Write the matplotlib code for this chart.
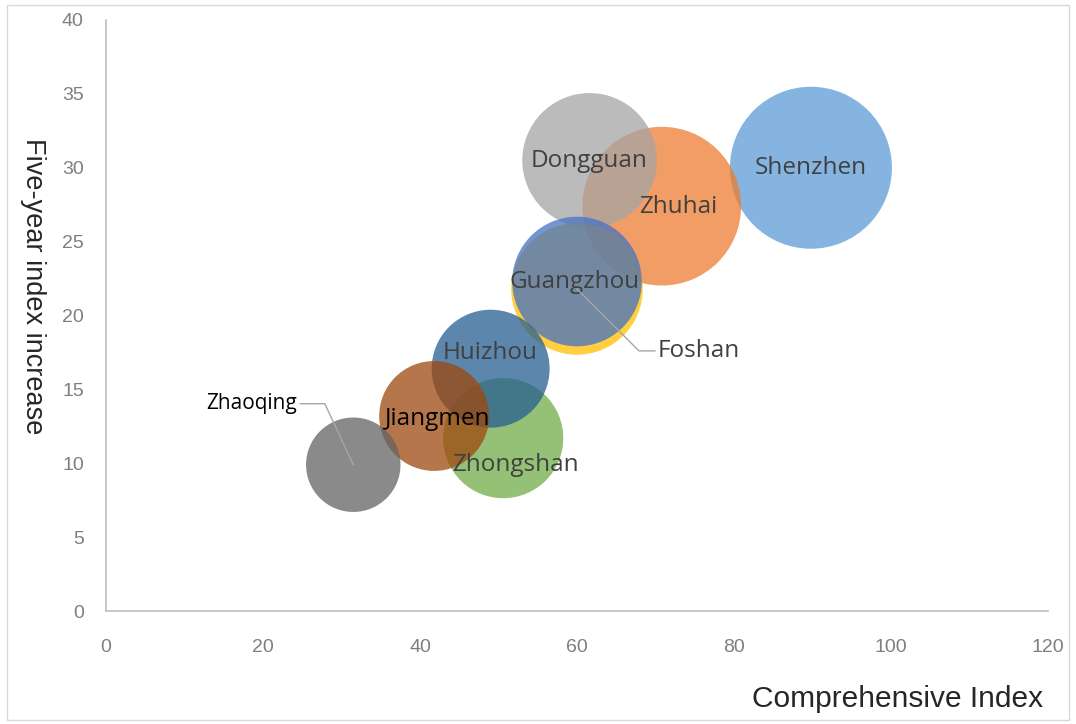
import numpy as np
import matplotlib.pyplot as plt
from matplotlib.patches import Rectangle

# datos de la grafica
cities = ['Shenzhen', 'Zhuhai', 'Dongguan', 'Foshan', 'Guangzhou',
          'Zhongshan', 'Huizhou', 'Jiangmen', 'Zhaoqing']
comp_index = [89.8, 70.8, 61.6, 60.0, 60.0, 50.6, 49.0, 41.8, 31.5]
increase = [30.0, 27.4, 30.5, 21.8, 22.3, 11.7, 16.4, 13.2, 9.9]
bubble = [100, 96, 69, 66, 64, 55, 53, 46, 34]
colors = ['#5B9BD5', '#ED7D31', '#A5A5A5', '#FFC000', '#4472C4',
          '#70AD47', '#255E91', '#9E480E', '#636363']

# posicion de cada etiqueta respecto al centro (pixeles)
label_off = {'Shenzhen': (0, 0), 'Zhuhai': (16, -1), 'Dongguan': (0, -1),
             'Guangzhou': (-2, 0), 'Huizhou': (-1, 16), 'Jiangmen': (4, -3),
             'Zhongshan': (12, -27)}
label_col = {'Jiangmen': '#000000', 'Zhaoqing': '#000000'}

dpi = 100
fig = plt.figure(figsize=(10.76, 7.24), dpi=dpi)
ax = fig.add_axes([106 / 1076, 1 - 611 / 724, (1048 - 106) / 1076, (611 - 20) / 724])

# tamanio de burbuja: area proporcional al valor, radio max 81 px
b = np.array(bubble, dtype=float)
r_px = 81 * np.sqrt(b / b.max())
s = (2 * r_px * 72 / dpi) ** 2
for i in range(len(cities)):
    ax.scatter(comp_index[i], increase[i], s=s[i], color=colors[i],
               alpha=0.75, edgecolors='none', zorder=2 + i)

lab_font = ['Open Sans', 'DejaVu Sans']
lab_size = 17.5
for i, c in enumerate(cities):
    if c in label_off:
        dx, dy = label_off[c]
        ax.annotate(c, (comp_index[i], increase[i]), xytext=(dx, dy),
                    textcoords='offset pixels', ha='center', va='center',
                    fontsize=lab_size, color=label_col.get(c, '#404040'),
                    family=lab_font, zorder=20)

# etiquetas con linea guia
i = cities.index('Foshan')
ax.annotate('Foshan', (comp_index[i], increase[i]), xytext=(81, -62),
            textcoords='offset pixels', ha='left', va='center',
            fontsize=lab_size, color='#404040', family=lab_font, zorder=20,
            arrowprops=dict(arrowstyle='-', color='#A6A6A6', lw=1,
                            shrinkA=0, shrinkB=0, relpos=(0, 0.5),
                            connectionstyle='angle,angleA=0,angleB=-45,rad=0'))
i = cities.index('Zhaoqing')
ax.annotate('Zhaoqing', (comp_index[i], increase[i]), xytext=(-56, 61),
            textcoords='offset pixels', ha='right', va='center',
            fontsize=15, color='#000000', family=lab_font, zorder=20,
            arrowprops=dict(arrowstyle='-', color='#A6A6A6', lw=1,
                            shrinkA=0, shrinkB=0, relpos=(1, 0.5),
                            connectionstyle='angle,angleA=0,angleB=-65,rad=0'))

ax.set_xlim(0, 120)
ax.set_ylim(0, 40)
ax.set_xticks(range(0, 121, 20))
ax.set_yticks(range(0, 41, 5))
tick_font = ['Liberation Sans Narrow', 'Liberation Sans', 'DejaVu Sans']
ax.tick_params(length=0, colors='#7F7F7F', labelsize=14)
ax.tick_params(axis='x', pad=20)
ax.tick_params(axis='y', pad=16)
for t in ax.get_xticklabels() + ax.get_yticklabels():
    t.set_family(tick_font)
for sp in ['top', 'right']:
    ax.spines[sp].set_visible(False)
for sp in ['left', 'bottom']:
    ax.spines[sp].set_color('#BFBFBF')
    ax.spines[sp].set_linewidth(1.2)

fig.text(33 / 1076, 1 - 286 / 724, 'Five-year index increase', rotation=-90,
         ha='center', va='center', fontsize=19.5, color='#262626', family=tick_font)
fig.text(1043 / 1076, 1 - 699 / 724, 'Comprehensive Index', ha='right',
         va='center', fontsize=21.5, color='#262626', family=tick_font)

# borde del area de grafica
fig.patches.append(Rectangle((7 / 1076, 4 / 724), 1062 / 1076, 715 / 724,
                             transform=fig.transFigure, fill=False,
                             edgecolor='#D9D9D9', lw=1))

fig.savefig('out.png', dpi=dpi)
